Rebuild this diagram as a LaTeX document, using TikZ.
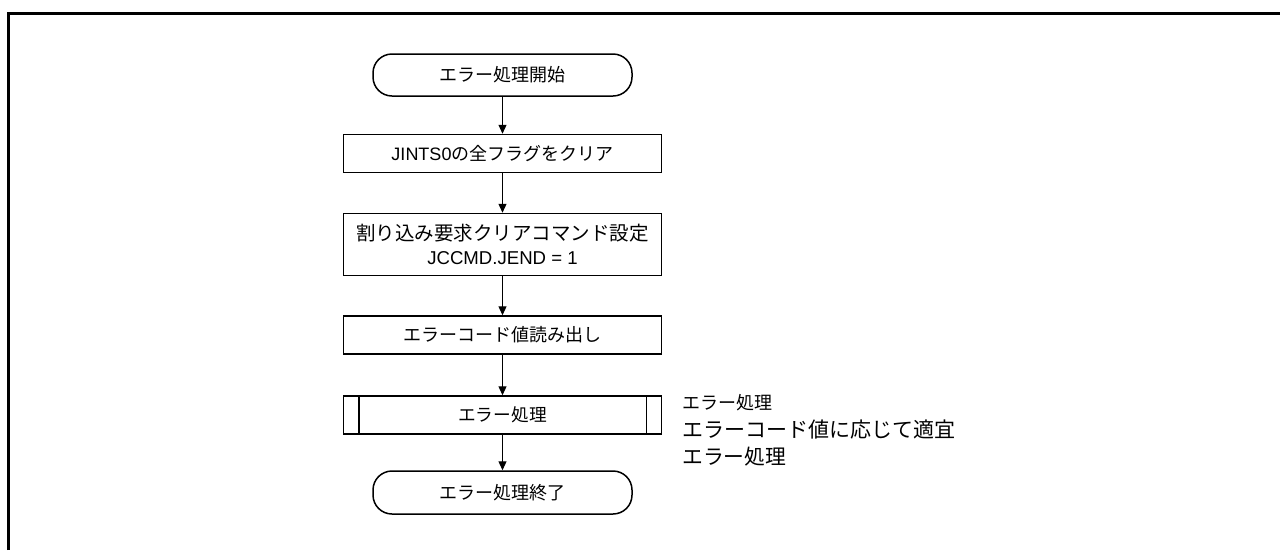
\documentclass[tikz,border=0pt]{standalone}
\usepackage{fontspec}
\setmainfont{Liberation Sans}
\newfontfamily\jp{Noto Sans CJK JP}
\newfontfamily\lat{Liberation Sans}
\usetikzlibrary{arrows.meta}
\begin{document}
\begin{tikzpicture}[x=1pt,y=-1pt,
  box/.style={draw, line width=1.5pt, minimum width=318pt, inner sep=0pt, align=center, font=\jp\fontsize{18}{24}\selectfont},
  term/.style={draw, line width=1.5pt, rounded corners=19pt, minimum width=259pt, minimum height=42pt, inner sep=0pt, font=\jp\fontsize{18}{24}\selectfont},
  flow/.style={line width=1.2pt, -{Triangle[length=9pt,width=8pt]}},
  note/.style={anchor=west, inner sep=0pt},
]
\useasboundingbox (0,0) rectangle (1280,550);
\draw[line width=3pt] (8.5,550) -- (8.5,13.5) -- (1280,13.5);

\node[term] (start) at (502.5,75) {エラー処理開始};
\node[box, minimum height=38pt] (clr) at (502.5,153.5) {{\lat JINTS0}の全フラグをクリア};
\node[box, minimum height=62pt] (cmd) at (502.5,244.5)
  {\fontsize{19.5}{24}\selectfont 割り込み要求クリアコマンド設定\\ \lat\fontsize{18.6}{24}\selectfont JCCMD.JEND = 1};
\node[box, minimum height=38pt] (rd) at (502.5,335) {エラーコード値読み出し};
\node[box, minimum height=38pt, font=\jp\fontsize{17.7}{24}\selectfont] (err) at (502.5,415) {エラー処理};
\draw[line width=1.5pt] ([xshift=16pt]err.north west) -- ([xshift=16pt]err.south west);
\draw[line width=1.5pt] ([xshift=-16pt]err.north east) -- ([xshift=-16pt]err.south east);
\node[term, minimum height=43pt] (fin) at (502.5,492.5) {エラー処理終了};

\draw[flow] (start) -- (clr);
\draw[flow] (clr) -- (cmd);
\draw[flow] (cmd) -- (rd);
\draw[flow] (rd) -- (err);
\draw[flow] (err) -- (fin);

\node[note, font=\jp\fontsize{18}{20}\selectfont] (n1) at (682,403) {エラー処理};
\node[note, font=\jp\fontsize{21}{24}\selectfont] (n2) at (682,429) {エラーコード値に応じて適宜};
\node[note, font=\jp\fontsize{20.8}{24}\selectfont] (n3) at (682,457) {エラー処理};
\end{tikzpicture}
\end{document}
